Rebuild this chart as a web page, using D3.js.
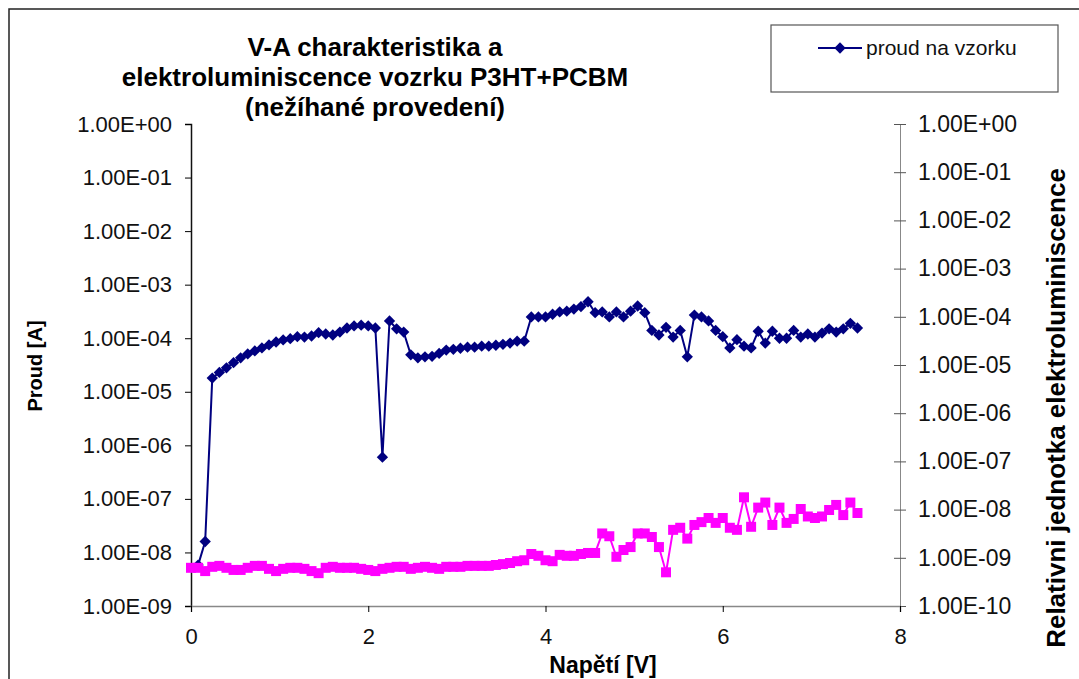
<!DOCTYPE html>
<html>
<head>
<meta charset="utf-8">
<script src="https://cdn.jsdelivr.net/npm/d3@7"></script>
<style>
  body { margin: 0; background: #fff; }
  svg { display: block; font-family: "Liberation Sans", Arial, sans-serif; }
</style>
</head>
<body>
<svg id="chart" width="1079" height="679"></svg>
<script>
// napeti [V] for the current series (proud na vzorku)
const voltsA = [0.08, 0.16, 0.24, 0.32, 0.40, 0.48, 0.56, 0.64, 0.72, 0.80, 0.88, 0.96,
  1.04, 1.12, 1.20, 1.28, 1.36, 1.44, 1.52, 1.60, 1.68, 1.76, 1.84, 1.92, 2.00,
  2.08, 2.16, 2.24, 2.32, 2.40, 2.48, 2.56, 2.64, 2.72, 2.80, 2.88, 2.96, 3.04,
  3.12, 3.20, 3.28, 3.36, 3.44, 3.52, 3.60, 3.68, 3.76, 3.84, 3.92, 4.00, 4.08,
  4.16, 4.24, 4.32, 4.40, 4.48, 4.56, 4.64, 4.72, 4.80, 4.88, 4.96, 5.04, 5.12,
  5.20, 5.28, 5.36, 5.44, 5.52, 5.60, 5.68, 5.76, 5.84, 5.92, 6.00, 6.08, 6.16,
  6.24, 6.32, 6.40, 6.48, 6.56, 6.64, 6.72, 6.80, 6.88, 6.96, 7.04, 7.12, 7.20,
  7.28, 7.36, 7.44, 7.52];
const current = [5.8e-9, 1.6e-8, 1.8e-5, 2.3e-5, 2.8e-5, 3.5e-5, 4.3e-5, 5.1e-5, 5.8e-5,
  6.6e-5, 7.5e-5, 8.5e-5, 9.3e-5, 9.8e-5, 1.07e-4, 1.05e-4, 1.1e-4, 1.27e-4, 1.2e-4,
  1.15e-4, 1.3e-4, 1.55e-4, 1.7e-4, 1.75e-4, 1.7e-4, 1.55e-4, 6e-7, 2.1e-4, 1.5e-4,
  1.3e-4, 4.9e-5, 4.3e-5, 4.5e-5, 4.6e-5, 5.2e-5, 6.0e-5, 6.2e-5, 6.5e-5, 6.8e-5,
  6.8e-5, 7.1e-5, 7.1e-5, 7.4e-5, 7.7e-5, 8.1e-5, 8.8e-5, 8.8e-5, 2.5e-4, 2.5e-4,
  2.5e-4, 2.8e-4, 3.1e-4, 3.2e-4, 3.5e-4, 3.9e-4, 4.8e-4, 3.0e-4, 3.1e-4, 2.5e-4,
  3.1e-4, 2.5e-4, 3.2e-4, 4.0e-4, 3.0e-4, 1.4e-4, 1.15e-4, 1.6e-4, 1.05e-4, 1.4e-4,
  4.5e-5, 2.7e-4, 2.5e-4, 2.1e-4, 1.4e-4, 1.07e-4, 6.6e-5, 9.4e-5, 7.1e-5, 6.6e-5,
  1.35e-4, 8.1e-5, 1.35e-4, 1.0e-4, 1.0e-4, 1.4e-4, 1.05e-4, 1.2e-4, 1.05e-4,
  1.25e-4, 1.5e-4, 1.3e-4, 1.5e-4, 1.9e-4, 1.55e-4];

// napeti [V] for the electroluminescence series
const voltsB = [0.00, 0.08, 0.16, 0.24, 0.32, 0.40, 0.48, 0.56, 0.64, 0.72, 0.80, 0.88,
  0.96, 1.04, 1.12, 1.20, 1.28, 1.36, 1.44, 1.52, 1.60, 1.68, 1.76, 1.84, 1.92,
  2.00, 2.08, 2.16, 2.24, 2.32, 2.40, 2.48, 2.56, 2.64, 2.72, 2.80, 2.88, 2.96,
  3.04, 3.12, 3.20, 3.28, 3.36, 3.44, 3.52, 3.60, 3.68, 3.76, 3.84, 3.92, 4.00,
  4.08, 4.16, 4.24, 4.32, 4.40, 4.48, 4.56, 4.64, 4.72, 4.80, 4.88, 4.96, 5.04,
  5.12, 5.20, 5.28, 5.36, 5.44, 5.52, 5.60, 5.68, 5.76, 5.84, 5.92, 6.00, 6.08,
  6.16, 6.24, 6.32, 6.40, 6.48, 6.56, 6.64, 6.72, 6.80, 6.88, 6.96, 7.04, 7.12,
  7.20, 7.28, 7.36, 7.44, 7.52];
const lumin = [6.2e-10, 6.2e-10, 5.3e-10, 6.5e-10, 6.8e-10, 6.2e-10, 5.6e-10, 5.6e-10,
  6.2e-10, 6.8e-10, 6.8e-10, 5.9e-10, 5.3e-10, 5.9e-10, 6.2e-10, 6.2e-10, 5.9e-10,
  5.3e-10, 4.8e-10, 6.2e-10, 6.5e-10, 6.2e-10, 6.2e-10, 6.2e-10, 5.9e-10, 5.6e-10,
  5.3e-10, 5.9e-10, 6.2e-10, 6.5e-10, 6.5e-10, 5.9e-10, 6.2e-10, 6.5e-10, 6.2e-10,
  5.9e-10, 6.5e-10, 6.5e-10, 6.5e-10, 6.8e-10, 6.8e-10, 6.8e-10, 6.8e-10, 7.1e-10,
  7.4e-10, 7.8e-10, 8.5e-10, 8.9e-10, 1.2e-9, 1.1e-9, 8.9e-10, 8.5e-10, 1.15e-9,
  1.1e-9, 1.1e-9, 1.2e-9, 1.26e-9, 1.26e-9, 3.2e-9, 2.8e-9, 1.05e-9, 1.45e-9,
  1.67e-9, 3.2e-9, 3.2e-9, 2.7e-9, 1.67e-9, 5e-10, 3.8e-9, 4.2e-9, 2.5e-9, 4.8e-9,
  5.5e-9, 6.7e-9, 5.3e-9, 6.7e-9, 4.2e-9, 3.8e-9, 1.8e-8, 4.4e-9, 1.1e-8, 1.4e-8,
  4.8e-9, 1.1e-8, 5.3e-9, 6.4e-9, 1.03e-8, 7.2e-9, 6.7e-9, 7.2e-9, 9.8e-9, 1.25e-8,
  7.7e-9, 1.4e-8, 8.5e-9];

const xTicks = [0, 2, 4, 6, 8];
const leftTicks = [1e0, 1e-1, 1e-2, 1e-3, 1e-4, 1e-5, 1e-6, 1e-7, 1e-8, 1e-9];
const rightTicks = [1e0, 1e-1, 1e-2, 1e-3, 1e-4, 1e-5, 1e-6, 1e-7, 1e-8, 1e-9, 1e-10];
const titleLines = ["V-A charakteristika a", "elektroluminiscence vozrku P3HT+PCBM", "(nežíhané provedení)"];

const svg = d3.select("#chart");
const plotL = 191, plotR = 900, plotT = 124, plotB = 606;

const x = d3.scaleLinear().domain([0, 8]).range([plotL, plotR]);
const yL = d3.scaleLog().domain([1e-9, 1]).range([plotB, plotT]);
const yR = d3.scaleLog().domain([1e-10, 1]).range([plotB, plotT]);

function sci(v) {
  const e = Math.round(Math.log10(v));
  return "1.00E" + (e < 0 ? "-" : "+") + String(Math.abs(e)).padStart(2, "0");
}

// outer frame
svg.append("rect")
  .attr("x", 9).attr("y", 9).attr("width", 1100).attr("height", 700)
  .attr("fill", "none").attr("stroke", "#222").attr("stroke-width", 1.5);

// title
svg.append("text")
  .attr("text-anchor", "middle")
  .attr("font-weight", "bold").attr("font-size", 26)
  .selectAll("tspan").data(titleLines).join("tspan")
  .attr("x", 375).attr("y", (d, i) => 56 + i * 30)
  .text(d => d);

// axes
const axL = svg.append("g").attr("transform", `translate(${plotL},0)`)
  .call(d3.axisLeft(yL).tickValues(leftTicks).tickFormat(sci).tickSize(6).tickPadding(13));
axL.select(".domain").attr("stroke", "#111").attr("stroke-width", 1.5);

const axR = svg.append("g").attr("transform", `translate(${plotR},0)`)
  .call(d3.axisRight(yR).tickValues(rightTicks).tickFormat(sci).tickSize(6).tickPadding(12));
axR.select(".domain").attr("stroke", "#888");
axR.selectAll(".tick line").attr("x1", -6).attr("stroke", "#555");

const axB = svg.append("g").attr("transform", `translate(0,${plotB})`)
  .call(d3.axisBottom(x).tickValues(xTicks).tickSize(6).tickPadding(16));
axB.select(".domain").attr("stroke", "#888").attr("stroke-width", 1.5);

svg.selectAll(".tick text").attr("font-size", 23).attr("fill", "#111")
  .attr("font-family", "'Liberation Sans', Arial, sans-serif");
axL.selectAll(".tick text").attr("font-size", 22);
axB.selectAll(".tick text").attr("font-size", 22);

// axis titles
svg.append("text")
  .attr("transform", "translate(42,366) rotate(-90)")
  .attr("text-anchor", "middle").attr("font-weight", "bold").attr("font-size", 20)
  .text("Proud [A]");
svg.append("text")
  .attr("transform", "translate(1065,408) rotate(-90)")
  .attr("text-anchor", "middle").attr("font-weight", "bold").attr("font-size", 26)
  .text("Relativni jednotka elektroluminiscence");
svg.append("text")
  .attr("x", 603).attr("y", 673)
  .attr("text-anchor", "middle").attr("font-weight", "bold").attr("font-size", 23)
  .text("Napětí [V]");

const navy = "#000080", pink = "#ff00ff";
const diamond = d3.symbol().type(d3.symbolSquare).size(64);
const square = d3.symbol().type(d3.symbolSquare).size(100);

// current series
const ptsA = voltsA.map((v, i) => [x(v), yL(current[i])]);
svg.append("path")
  .attr("d", d3.line()(ptsA))
  .attr("fill", "none").attr("stroke", navy).attr("stroke-width", 2);
svg.append("g").selectAll("path").data(ptsA).join("path")
  .attr("d", diamond)
  .attr("transform", d => `translate(${d[0]},${d[1]}) rotate(45)`)
  .attr("fill", navy);

// electroluminescence series (secondary axis)
const ptsB = voltsB.map((v, i) => [x(v), yR(lumin[i])]);
svg.append("path")
  .attr("d", d3.line()(ptsB))
  .attr("fill", "none").attr("stroke", pink).attr("stroke-width", 2);
svg.append("g").selectAll("path").data(ptsB).join("path")
  .attr("d", square)
  .attr("transform", d => `translate(${d[0]},${d[1]})`)
  .attr("fill", pink);

// legend
const lg = svg.append("g");
lg.append("rect")
  .attr("x", 771).attr("y", 25).attr("width", 287).attr("height", 67)
  .attr("fill", "#fff").attr("stroke", "#555").attr("stroke-width", 1.2);
lg.append("line")
  .attr("x1", 818).attr("x2", 862).attr("y1", 48).attr("y2", 48)
  .attr("stroke", navy).attr("stroke-width", 2);
lg.append("path").attr("d", diamond)
  .attr("transform", "translate(840,48) rotate(45)").attr("fill", navy);
lg.append("text")
  .attr("x", 866).attr("y", 55).attr("font-size", 21).attr("fill", "#111")
  .text("proud na vzorku");
</script>
</body>
</html>
